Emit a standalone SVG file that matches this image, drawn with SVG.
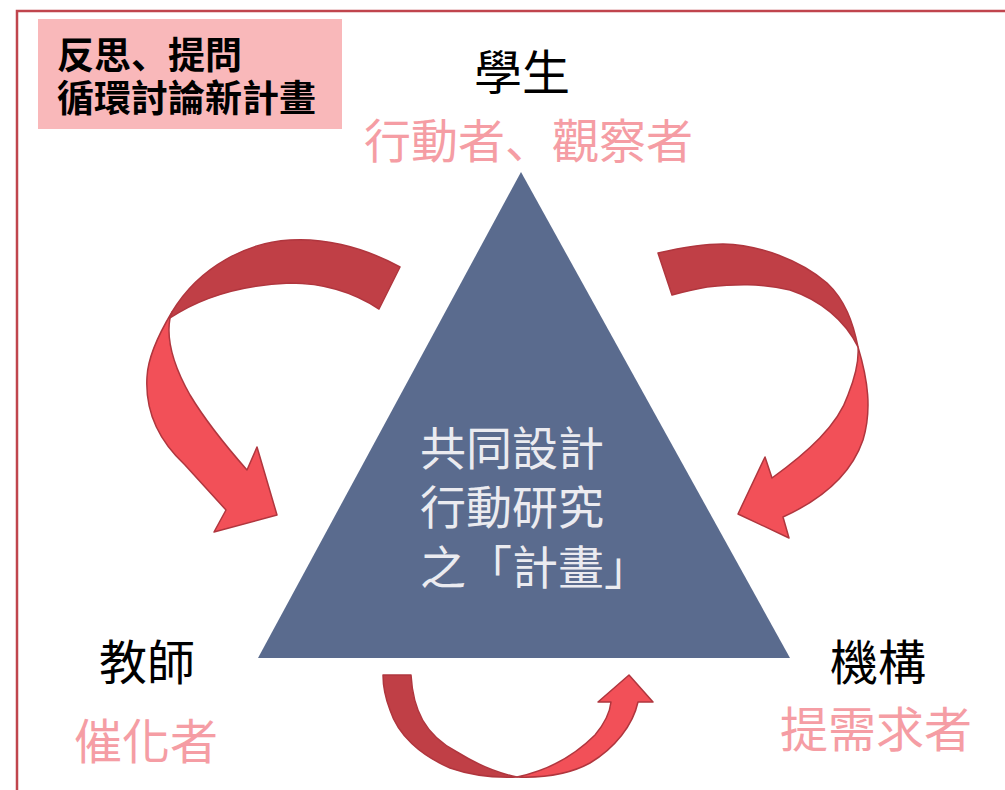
<svg xmlns="http://www.w3.org/2000/svg" width="1005" height="790" viewBox="0 0 1005 790">
<style>
  .cjk { font-family: "Noto Sans CJK TC", "Noto Sans CJK SC", sans-serif; }
  .cjk-jp { font-family: "Noto Sans CJK JP", "Noto Sans CJK SC", sans-serif; }
  .role { font-size: 48px; fill: #000000; }
  .sub { font-size: 48px; fill: #F59DA4; }
  .tri-text { font-size: 46px; fill: #EBEBF0; }
  .box-text { font-size: 37px; font-weight: bold; fill: #000000; }
  .back { fill: #C03F46; stroke: #B0363E; stroke-width: 1.5; stroke-linejoin: round; }
  .front { fill: #F25058; stroke: #B0363E; stroke-width: 1.5; stroke-linejoin: round; }
</style>
<rect x="0" y="0" width="1005" height="790" fill="#FFFFFF"/>
<rect x="17" y="11" width="1010" height="800" fill="none" stroke="#C0454D" stroke-width="2.5"/>

<g id="title-box">
  <rect x="38" y="19" width="304" height="110" fill="#F9B8BA"/>
  <text class="cjk-jp box-text" x="57" y="69">反思、提問</text>
  <text class="cjk box-text" x="57" y="112">循環討論新計畫</text>
</g>

<g id="plan">
  <polygon points="521,172 258,658 790,658" fill="#5A6B8E"/>
  <text class="cjk tri-text" x="420" y="465">共同設計</text>
  <text class="cjk tri-text" x="420" y="524">行動研究</text>
  <text class="cjk tri-text" x="420" y="584">之「計畫」</text>
</g>

<g id="student">
  <text class="cjk role" x="522" y="90" text-anchor="middle">學生</text>
  <text class="cjk-jp sub" x="364" y="158" style="font-size:47px">行動者、觀察者</text>
</g>

<g id="teacher">
  <text class="cjk role" x="99" y="680">教師</text>
  <text class="cjk sub" x="74" y="759">催化者</text>
</g>

<g id="institution">
  <text class="cjk role" x="830" y="680">機構</text>
  <text class="cjk sub" x="780" y="747">提需求者</text>
</g>

<g id="connectors">
  <!-- left arrow -->
  <path class="back" d="M400,267 C360,245 320,238 290,240 C250,242 200,265 172,312 L170,318 C200,298 240,285 290,283 C320,283 350,290 379,309 Z"/>
  <path class="front" d="M172,312 C160,332 148,355 147,377 C145,410 158,440 185,465 L226,510 L214,532 L277,515 L257,447 L247,470 C225,445 205,420 190,395 C173,365 166,340 170,318 Z"/>
  <!-- right arrow -->
  <path class="back" d="M658,253 C680,248 700,244 723,244 C760,245 800,260 827,283 C845,300 853,322 858,347 C845,320 820,300 790,290 C760,283 735,284 707,287 C695,289 683,292 672,295 Z"/>
  <path class="front" d="M858,347 C868,380 872,410 863,440 C852,472 825,498 783,517 L789,538 L738,514 L765,457 L772,478 C808,452 838,425 848,395 C856,375 859,360 858,347 Z"/>
  <!-- bottom arrow -->
  <path class="back" d="M383,675 L411,675 C413,710 425,735 457,752 C478,765 497,773 517,777 C495,778 470,775 450,768 C420,755 398,735 390,710 C385,697 383,686 383,675 Z"/>
  <path class="front" d="M517,777 C550,770 575,755 595,735 C605,723 610,712 611,702 L598,702 L629,675 L653,702 L638,702 C633,725 615,748 590,763 C568,775 543,778 517,777 Z"/>
</g>
</svg>
